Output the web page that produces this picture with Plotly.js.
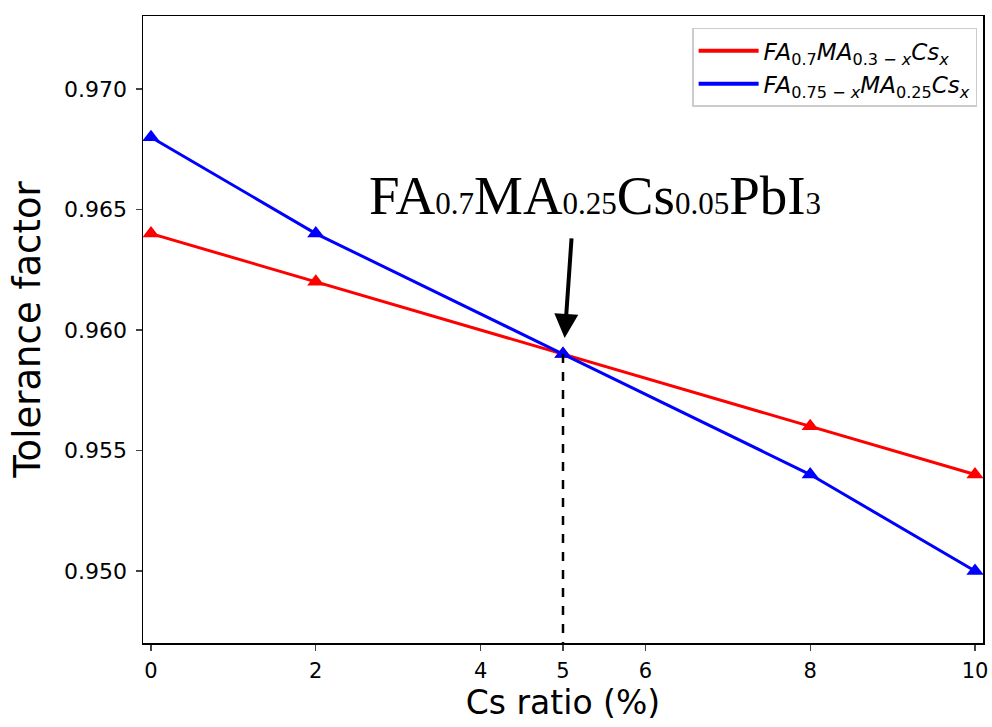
<!DOCTYPE html>
<html>
<head>
<meta charset="utf-8">
<script src="https://cdn.plot.ly/plotly-3.0.1.min.js"></script>
<style>html,body{margin:0;padding:0;background:#fff;}#chart{width:992px;height:727px;}</style>
</head>
<body>
<div id="chart"></div>
<script>
const csRatio = [0, 2, 5, 8, 10];
const seriesRed = [0.964, 0.962, 0.959, 0.956, 0.954];
const seriesBlue = [0.968, 0.964, 0.959, 0.954, 0.950];
const nameRed = '<i>FA</i><sub>0.7</sub><i>MA</i><sub>0.3 − <i>x</i></sub><i>Cs</i><sub><i>x</i></sub>';
const nameBlue = '<i>FA</i><sub>0.75 − <i>x</i></sub><i>MA</i><sub>0.25</sub><i>Cs</i><sub><i>x</i></sub>';
const xTicks = [0, 2, 4, 5, 6, 8, 10];
const yTicks = [0.950, 0.955, 0.960, 0.965, 0.970];
const yTickText = ['0.950', '0.955', '0.960', '0.965', '0.970'];
const highlightX = 5;
const highlightY = 0.959;
const xRange = [-0.097, 10.097];
const yRange = [0.94701, 0.97303];

const sub = s => '<span style="font-size:31px">' + s + '</span>';
const formulaText = 'FA' + sub('0.7') + 'MA' + sub('0.25') + 'Cs' + sub('0.05') + 'PbI' + sub('3');

const traces = [
  {x: csRatio, y: seriesRed, mode: 'lines+markers', line: {color: '#ff0000', width: 3},
   marker: {symbol: 'triangle-up', size: 15, color: '#ff0000'}, showlegend: false, hoverinfo: 'x+y'},
  {x: csRatio, y: seriesBlue, mode: 'lines+markers', line: {color: '#0000ff', width: 3},
   marker: {symbol: 'triangle-up', size: 15, color: '#0000ff'}, showlegend: false, hoverinfo: 'x+y'},
  {x: [null], y: [null], mode: 'lines', line: {color: '#ff0000', width: 4}, name: nameRed},
  {x: [null], y: [null], mode: 'lines', line: {color: '#0000ff', width: 4}, name: nameBlue}
];

const layout = {
  width: 992, height: 727,
  margin: {l: 143, r: 9, t: 16, b: 84},
  paper_bgcolor: '#fff', plot_bgcolor: '#fff',
  font: {family: 'DejaVu Sans, sans-serif', color: '#000'},
  xaxis: {
    range: xRange, tickvals: xTicks, ticks: 'outside', ticklen: 6, tickwidth: 1.2,
    showgrid: false, zeroline: false, showline: true, linecolor: '#000', linewidth: 1.5, mirror: true,
    tickfont: {size: 21}, ticklabelstandoff: 2,
    title: {text: 'Cs ratio (%)', font: {size: 33}, standoff: 4}
  },
  yaxis: {
    range: yRange, tickvals: yTicks, ticktext: yTickText, ticks: 'outside', ticklen: 6, tickwidth: 1.2,
    showgrid: false, zeroline: false, showline: true, linecolor: '#000', linewidth: 1.5, mirror: true,
    tickfont: {size: 22}, ticklabelstandoff: 4,
    title: {text: 'Tolerance factor', font: {size: 37}, standoff: 12}
  },
  legend: {
    x: 0.993, y: 0.981, xanchor: 'right', yanchor: 'top',
    bgcolor: '#fff', bordercolor: '#cccccc', borderwidth: 1.5,
    font: {size: 23}, tracegroupgap: 0, itemwidth: 60
  },
  shapes: [
    {type: 'line', xref: 'x', yref: 'y', x0: highlightX, x1: highlightX, y0: highlightY, y1: yRange[0],
     line: {color: '#000', width: 2.5, dash: 'dash'}}
  ],
  annotations: [
    {xref: 'paper', yref: 'paper', x: (595 - 143) / 840, y: 1 - (195 - 16) / 627, xanchor: 'center', yanchor: 'middle',
     text: formulaText, showarrow: false,
     font: {family: 'Liberation Serif, Times New Roman, serif', size: 55, color: '#000'}},
    {xref: 'x', yref: 'y', x: 5.02, y: 0.95967, text: '', showarrow: true, arrowhead: 2, arrowsize: 1.2,
     arrowwidth: 4, arrowcolor: '#000', ax: 7, ay: -101, standoff: 0}
  ]
};

Plotly.newPlot('chart', traces, layout, {displayModeBar: false, staticPlot: true});
</script>
</body>
</html>
